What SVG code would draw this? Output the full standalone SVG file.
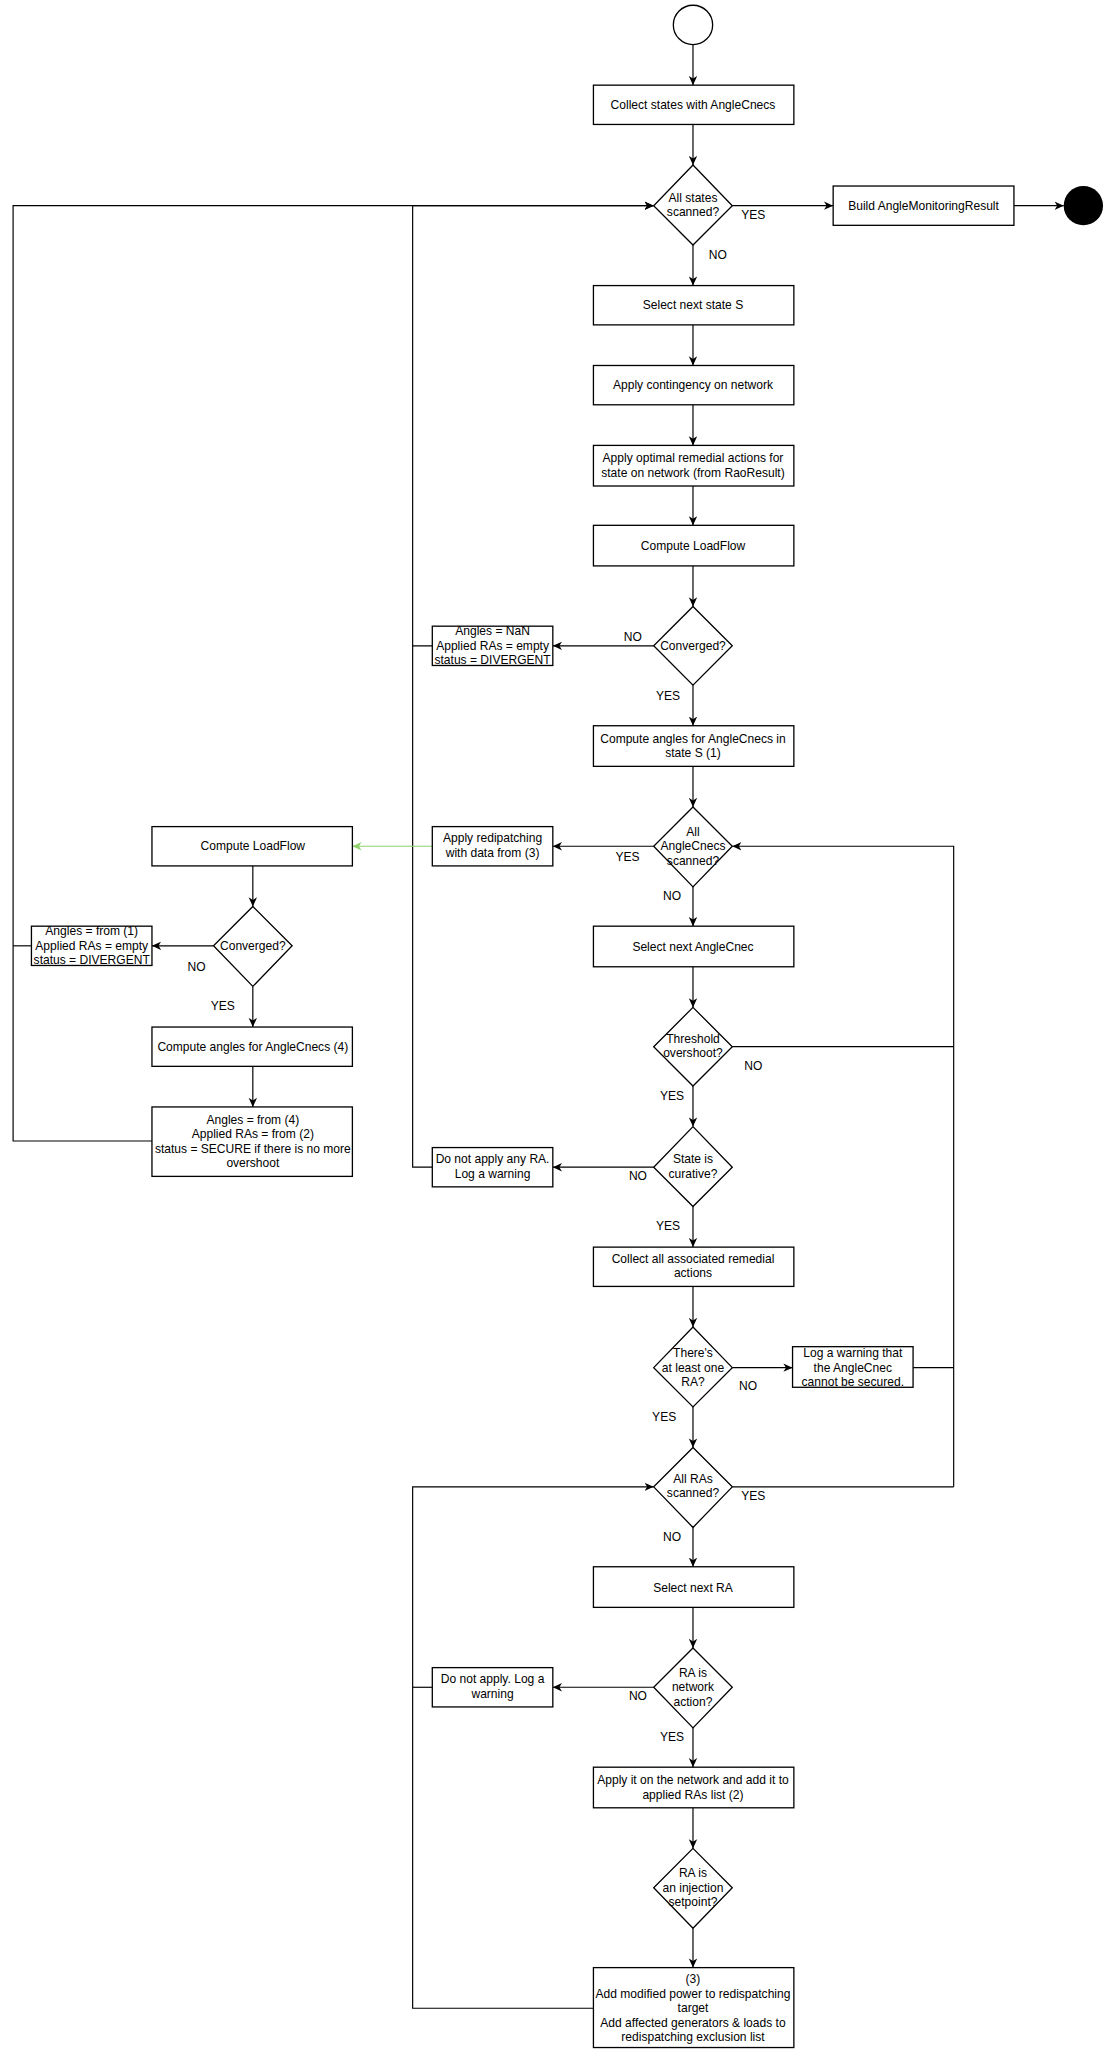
<svg xmlns="http://www.w3.org/2000/svg" width="1108" height="2051" viewBox="0 0 1108 2051">
<style>
.n{fill:#fff;stroke:#000;stroke-width:1}
.c{fill:none;stroke:#000;stroke-width:0.9}
.g{fill:none;stroke:#8fd06a;stroke-width:0.9}
text{font-family:"Liberation Sans",Arial,sans-serif;font-size:9.2px;fill:#000;text-anchor:middle}
</style>
<defs>
<marker id="a" markerUnits="userSpaceOnUse" markerWidth="8" markerHeight="8" viewBox="0 0 8 8" refX="7" refY="4" orient="auto"><path d="M0,0.8 L7,4 L0,7.2 L2,4z" fill="#000"/></marker>
<marker id="ag" markerUnits="userSpaceOnUse" markerWidth="8" markerHeight="8" viewBox="0 0 8 8" refX="7" refY="4" orient="auto"><path d="M0,0.8 L7,4 L0,7.2 L2,4z" fill="#8fd06a"/></marker>
</defs>
<rect width="1108" height="2051" fill="#fff"/>
<g transform="scale(1.31)">
<g id="connectors">
<path class="c" marker-end="url(#a)" d="M529,34 V65"/>
<path class="c" marker-end="url(#a)" d="M529,95 V126"/>
<path class="c" marker-end="url(#a)" d="M559,157 H636"/>
<path class="c" marker-end="url(#a)" d="M774,157 H812"/>
<path class="c" marker-end="url(#a)" d="M529,187 V218"/>
<path class="c" marker-end="url(#a)" d="M529,248 V279"/>
<path class="c" marker-end="url(#a)" d="M529,309 V340"/>
<path class="c" marker-end="url(#a)" d="M529,371 V401"/>
<path class="c" marker-end="url(#a)" d="M529,432 V463"/>
<path class="c" marker-end="url(#a)" d="M499,493 H422"/>
<path class="c" marker-end="url(#a)" d="M529,523 V554"/>
<path class="c" marker-end="url(#a)" d="M529,585 V616"/>
<path class="c" marker-end="url(#a)" d="M330,493 H315 V157 H499"/>
<path class="c" marker-end="url(#a)" d="M116,871 H10 V157 H499"/>
<path class="c" d="M24,722 H10"/>
<path class="c" d="M330,891 H315 V493"/>
<path class="c" marker-end="url(#a)" d="M499,646 H422"/>
<path class="g" marker-end="url(#ag)" d="M330,646 H269"/>
<path class="c" marker-end="url(#a)" d="M193,661 V692"/>
<path class="c" marker-end="url(#a)" d="M163,722 H116"/>
<path class="c" marker-end="url(#a)" d="M193,753 V784"/>
<path class="c" marker-end="url(#a)" d="M193,814 V845"/>
<path class="c" marker-end="url(#a)" d="M529,677 V707"/>
<path class="c" marker-end="url(#a)" d="M529,738 V769"/>
<path class="c" d="M559,799 H728"/>
<path class="c" marker-end="url(#a)" d="M728,1135 V646 H559"/>
<path class="c" marker-end="url(#a)" d="M529,829 V860"/>
<path class="c" marker-end="url(#a)" d="M499,891 H422"/>
<path class="c" marker-end="url(#a)" d="M529,921 V952"/>
<path class="c" marker-end="url(#a)" d="M529,982 V1013"/>
<path class="c" marker-end="url(#a)" d="M559,1044 H605"/>
<path class="c" d="M697,1044 H728"/>
<path class="c" marker-end="url(#a)" d="M529,1074 V1105"/>
<path class="c" d="M559,1135 H728"/>
<path class="c" marker-end="url(#a)" d="M529,1166 V1196"/>
<path class="c" marker-end="url(#a)" d="M529,1227 V1258"/>
<path class="c" marker-end="url(#a)" d="M499,1288 H422"/>
<path class="c" marker-end="url(#a)" d="M529,1319 V1349"/>
<path class="c" marker-end="url(#a)" d="M529,1380 V1411"/>
<path class="c" marker-end="url(#a)" d="M529,1472 V1502"/>
<path class="c" marker-end="url(#a)" d="M453,1533 H315 V1135 H499"/>
<path class="c" d="M330,1288 H315"/>
<text x="575" y="167">YES</text><text x="548" y="198">NO</text>
<text x="483" y="489">NO</text><text x="510" y="534">YES</text>
<text x="479" y="657">YES</text><text x="513" y="687">NO</text>
<text x="150" y="741">NO</text><text x="170" y="771">YES</text>
<text x="575" y="817">NO</text><text x="513" y="840">YES</text>
<text x="487" y="901">NO</text><text x="510" y="939">YES</text>
<text x="571" y="1061">NO</text><text x="507" y="1085">YES</text>
<text x="575" y="1145">YES</text><text x="513" y="1176">NO</text>
<text x="487" y="1298">NO</text><text x="513" y="1329">YES</text>
</g>
<g id="start"><circle class="n" cx="529" cy="19" r="15"/></g>
<g id="collect"><rect class="n" x="453" y="65" width="153" height="30"/><text x="529" y="83">Collect states with AngleCnecs</text></g>
<g id="allStates"><path class="n" d="M529,126 L559,157 L529,187 L499,157Z"/><text x="529" y="154">All states</text><text x="529" y="165">scanned?</text></g>
<g id="build"><rect class="n" x="636" y="142" width="138" height="30"/><text x="705" y="160">Build AngleMonitoringResult</text></g>
<g id="end"><circle cx="827" cy="157" r="15" fill="#000"/></g>
<g id="selectState"><rect class="n" x="453" y="218" width="153" height="30"/><text x="529" y="236">Select next state S</text></g>
<g id="applyCont"><rect class="n" x="453" y="279" width="153" height="30"/><text x="529" y="297">Apply contingency on network</text></g>
<g id="applyOpt"><rect class="n" x="453" y="340" width="153" height="31"/><text x="529" y="353">Apply optimal remedial actions for</text><text x="529" y="364">state on network (from RaoResult)</text></g>
<g id="lf1"><rect class="n" x="453" y="401" width="153" height="31"/><text x="529" y="420">Compute LoadFlow</text></g>
<g id="conv1"><path class="n" d="M529,463 L559,493 L529,523 L499,493Z"/><text x="529" y="496">Converged?</text></g>
<g id="nan"><rect class="n" x="330" y="478" width="92" height="30"/><text x="376" y="485">Angles = NaN</text><text x="376" y="496">Applied RAs = empty</text><text x="376" y="507">status = DIVERGENT</text></g>
<g id="angles1"><rect class="n" x="453" y="554" width="153" height="31"/><text x="529" y="567">Compute angles for AngleCnecs in</text><text x="529" y="578">state S (1)</text></g>
<g id="allCnecs"><path class="n" d="M529,616 L559,646 L529,677 L499,646Z"/><text x="529" y="638">All</text><text x="529" y="649">AngleCnecs</text><text x="529" y="660">scanned?</text></g>
<g id="redisp"><rect class="n" x="330" y="631" width="92" height="30"/><text x="376" y="643">Apply redipatching</text><text x="376" y="654">with data from (3)</text></g>
<g id="lf2"><rect class="n" x="116" y="631" width="153" height="30"/><text x="193" y="649">Compute LoadFlow</text></g>
<g id="conv2"><path class="n" d="M193,692 L223,722 L193,753 L163,722Z"/><text x="193" y="725">Converged?</text></g>
<g id="from1"><rect class="n" x="24" y="707" width="92" height="30"/><text x="70" y="714">Angles = from (1)</text><text x="70" y="725">Applied RAs = empty</text><text x="70" y="736">status = DIVERGENT</text></g>
<g id="angles4"><rect class="n" x="116" y="784" width="153" height="30"/><text x="193" y="802">Compute angles for AngleCnecs (4)</text></g>
<g id="from4"><rect class="n" x="116" y="845" width="153" height="53"/><text x="193" y="858">Angles = from (4)</text><text x="193" y="869">Applied RAs = from (2)</text><text x="193" y="880">status = SECURE if there is no more</text><text x="193" y="891">overshoot</text></g>
<g id="selectCnec"><rect class="n" x="453" y="707" width="153" height="31"/><text x="529" y="726">Select next AngleCnec</text></g>
<g id="threshold"><path class="n" d="M529,769 L559,799 L529,829 L499,799Z"/><text x="529" y="796">Threshold</text><text x="529" y="807">overshoot?</text></g>
<g id="curative"><path class="n" d="M529,860 L559,891 L529,921 L499,891Z"/><text x="529" y="888">State is</text><text x="529" y="899">curative?</text></g>
<g id="noRA"><rect class="n" x="330" y="876" width="92" height="30"/><text x="376" y="888">Do not apply any RA.</text><text x="376" y="899">Log a warning</text></g>
<g id="collectRA"><rect class="n" x="453" y="952" width="153" height="30"/><text x="529" y="964">Collect all associated remedial</text><text x="529" y="975">actions</text></g>
<g id="atLeast"><path class="n" d="M529,1013 L559,1044 L529,1074 L499,1044Z"/><text x="529" y="1036">There's</text><text x="529" y="1047">at least one</text><text x="529" y="1058">RA?</text></g>
<g id="logWarn"><rect class="n" x="605" y="1028" width="92" height="31"/><text x="651" y="1036">Log a warning that</text><text x="651" y="1047">the AngleCnec</text><text x="651" y="1058">cannot be secured.</text></g>
<g id="allRAs"><path class="n" d="M529,1105 L559,1135 L529,1166 L499,1135Z"/><text x="529" y="1132">All RAs</text><text x="529" y="1143">scanned?</text></g>
<g id="selectRA"><rect class="n" x="453" y="1196" width="153" height="31"/><text x="529" y="1215">Select next RA</text></g>
<g id="netAction"><path class="n" d="M529,1258 L559,1288 L529,1319 L499,1288Z"/><text x="529" y="1280">RA is</text><text x="529" y="1291">network</text><text x="529" y="1302">action?</text></g>
<g id="noApply"><rect class="n" x="330" y="1273" width="92" height="30"/><text x="376" y="1285">Do not apply. Log a</text><text x="376" y="1296">warning</text></g>
<g id="applyIt"><rect class="n" x="453" y="1349" width="153" height="31"/><text x="529" y="1362">Apply it on the network and add it to</text><text x="529" y="1373">applied RAs list (2)</text></g>
<g id="injection"><path class="n" d="M529,1411 L559,1441 L529,1472 L499,1441Z"/><text x="529" y="1433">RA is</text><text x="529" y="1444">an injection</text><text x="529" y="1455">setpoint?</text></g>
<g id="addPower"><rect class="n" x="453" y="1502" width="153" height="61"/><text x="529" y="1514">(3)</text><text x="529" y="1525">Add modified power to redispatching</text><text x="529" y="1536">target</text><text x="529" y="1547">Add affected generators &amp; loads to</text><text x="529" y="1558">redispatching exclusion list</text></g>
</g>
</svg>
